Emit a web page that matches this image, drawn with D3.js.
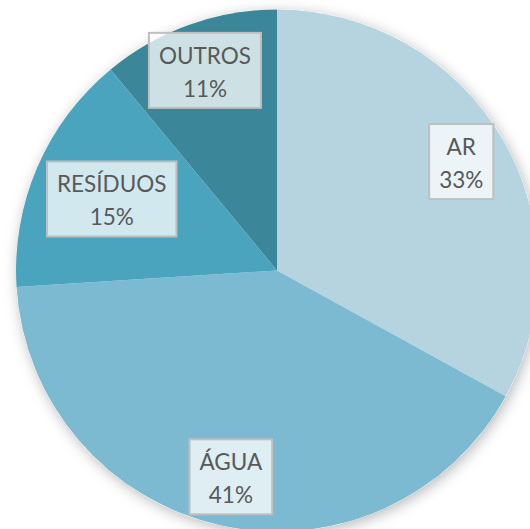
<!DOCTYPE html>
<html>
<head>
<meta charset="utf-8">
<script src="https://cdn.jsdelivr.net/npm/d3@7"></script>
<style>
  html, body { margin: 0; padding: 0; background: #ffffff; }
  svg { display: block; }
</style>
</head>
<body>
<div id="chart"></div>
<script>
// Distribution by category (percent)
const categories = ["AR", "ÁGUA", "RESÍDUOS", "OUTROS"];
const values = [33, 41, 15, 11];
const colors = ["#b5d4df", "#7bbad0", "#4aa4be", "#3b8699"];

const width = 530, height = 529;
const cx = 277, cy = 270.5, radius = 261;

// Label distance as a fraction of the radius (RESÍDUOS is pulled inward)
const labelFactor = { "AR": 0.82, "ÁGUA": 0.81, "RESÍDUOS": 0.69, "OUTROS": 0.815 };

const data = categories.map((c, i) => ({ category: c, value: values[i], color: colors[i] }));

const svg = d3.select("#chart").append("svg")
  .attr("width", width)
  .attr("height", height);

const defs = svg.append("defs");
const shadow = defs.append("filter")
  .attr("id", "pieShadow")
  .attr("x", "-20%").attr("y", "-20%")
  .attr("width", "140%").attr("height", "140%");
shadow.append("feDropShadow")
  .attr("dx", 2).attr("dy", 3)
  .attr("stdDeviation", 7)
  .attr("flood-color", "#000")
  .attr("flood-opacity", 0.28);

const pie = d3.pie()
  .value(d => d.value)
  .sort(null)
  .startAngle(0)
  .endAngle(2 * Math.PI);

const arc = d3.arc().innerRadius(0).outerRadius(radius);

const g = svg.append("g").attr("transform", `translate(${cx},${cy})`);

const arcs = pie(data);

// Shadowed base disc
g.append("circle")
  .attr("r", radius)
  .attr("fill", "#ffffff")
  .attr("filter", "url(#pieShadow)");

g.selectAll("path.slice")
  .data(arcs)
  .join("path")
  .attr("class", "slice")
  .attr("d", arc)
  .attr("fill", d => d.data.color);

// Labels: boxed category name and percentage
const fontFamily = "Lato, 'Open Sans', sans-serif";
const fontSize = 22.5;
const labelG = g.selectAll("g.label")
  .data(arcs)
  .join("g")
  .attr("class", "label")
  .attr("transform", d => {
    const a = (d.startAngle + d.endAngle) / 2;
    const r = radius * labelFactor[d.data.category];
    return `translate(${r * Math.sin(a)},${-r * Math.cos(a)})`;
  });

labelG.each(function(d) {
  const sel = d3.select(this);
  const t1 = sel.append("text")
    .attr("text-anchor", "middle")
    .attr("y", -6.5)
    .attr("font-family", fontFamily)
    .attr("font-size", fontSize)
    .attr("fill", "#595959")
    .text(d.data.category);
  const t2 = sel.append("text")
    .attr("text-anchor", "middle")
    .attr("y", 26.5)
    .attr("font-family", fontFamily)
    .attr("font-size", fontSize)
    .attr("fill", "#595959")
    .text(d3.format(".0f")(d.data.value) + "%");
  const w = Math.max(t1.node().getComputedTextLength(), t2.node().getComputedTextLength()) + 20;
  const h = 75;
  sel.insert("rect", "text")
    .attr("x", -w / 2)
    .attr("y", -h / 2)
    .attr("width", w)
    .attr("height", h)
    .attr("fill", "#ffffff")
    .attr("fill-opacity", 0.75)
    .attr("stroke", "#bfbfbf")
    .attr("stroke-width", 2);
});
</script>
</body>
</html>
